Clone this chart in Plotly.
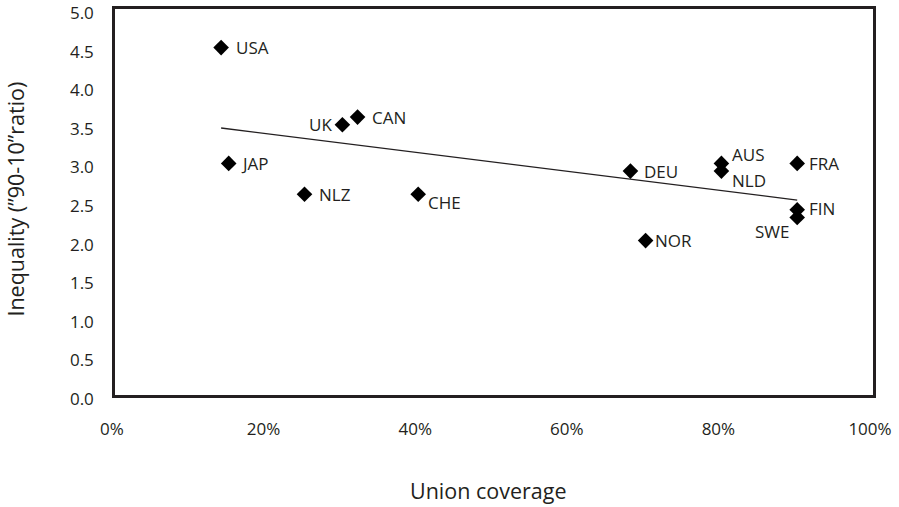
import numpy as np
import plotly.graph_objects as go

countries = ["USA", "JAP", "UK", "CAN", "NLZ", "CHE", "DEU", "AUS", "NLD", "FRA", "FIN", "SWE", "NOR"]
coverage = [0.14, 0.15, 0.30, 0.32, 0.25, 0.40, 0.68, 0.80, 0.80, 0.90, 0.90, 0.90, 0.70]
inequality = [4.5, 3.0, 3.5, 3.6, 2.6, 2.6, 2.9, 3.0, 2.9, 3.0, 2.4, 2.3, 2.0]

x_ticks = [0, 0.2, 0.4, 0.6, 0.8, 1.0]
x_ticktext = ["0%", "20%", "40%", "60%", "80%", "100%"]
y_ticks = [0, 0.5, 1.0, 1.5, 2.0, 2.5, 3.0, 3.5, 4.0, 4.5, 5.0]

# label placement (pixel offsets, style only)
label_style = {
    "USA": ("left", 13, 0), "JAP": ("left", 10, 0), "UK": ("right", -8, 0),
    "CAN": ("left", 12, 0), "NLZ": ("left", 12, 0), "CHE": ("left", 8, -8),
    "DEU": ("left", 12, 0), "AUS": ("left", 9, 9), "NLD": ("left", 9, -9),
    "FRA": ("left", 10, 0), "FIN": ("left", 10, 1), "SWE": ("right", -6, -14),
    "NOR": ("left", 7, 0),
}

TXT = "#231f20"
FONT = "Open Sans"

fig = go.Figure()

slope, intercept = np.polyfit(coverage, inequality, 1)
xl = np.array([min(coverage), max(coverage)])
fig.add_trace(go.Scatter(x=xl, y=slope * xl + intercept, mode="lines",
                         line=dict(color="#231f20", width=1.3), hoverinfo="skip",
                         showlegend=False))

fig.add_trace(go.Scatter(x=coverage, y=inequality, mode="markers",
                         marker=dict(symbol="diamond", size=12, color="#000000"),
                         showlegend=False))

for c, xv, yv in zip(countries, coverage, inequality):
    anchor, dx, dy = label_style[c]
    fig.add_annotation(x=xv, y=yv, text=c, showarrow=False, xanchor=anchor,
                       yanchor="middle", xshift=dx, yshift=dy,
                       font=dict(family=FONT, size=17, color=TXT))

fig.add_annotation(xref="paper", yref="paper", x=-0.131, y=0.508,
                   text="Inequality (\u201d90-10\u201dratio)", textangle=-90,
                   showarrow=False, xanchor="center", yanchor="middle",
                   font=dict(family=FONT, size=21.5, color=TXT))
fig.add_annotation(xref="paper", yref="paper", x=0.493, y=-0.247,
                   text="Union coverage", showarrow=False,
                   xanchor="center", yanchor="middle",
                   font=dict(family=FONT, size=21.5, color=TXT))

fig.update_xaxes(range=[0, 1], tickvals=x_ticks, ticktext=x_ticktext,
                 showgrid=False, zeroline=False, showline=True, mirror=True,
                 linecolor="#231f20", linewidth=2.5, ticks="", automargin=False,
                 ticklabelshift=-3, ticklabelstandoff=17, ticklabeloverflow="allow",
                 tickfont=dict(family=FONT, size=17, color=TXT))
fig.update_yaxes(range=[0, 5], tickvals=y_ticks, tickformat=".1f",
                 showgrid=False, zeroline=False, showline=True, mirror=True,
                 linecolor="#231f20", linewidth=2.5, ticks="", automargin=False,
                 ticklabelshift=4, ticklabelstandoff=15, ticklabeloverflow="allow",
                 tickfont=dict(family=FONT, size=17, color=TXT))

fig.update_layout(width=899, height=507,
                  margin=dict(l=115, r=26, t=9, b=111.5),
                  plot_bgcolor="white", paper_bgcolor="white")

fig.write_html("out.html", config={"displayModeBar": False},
               post_script="document.body.style.margin='0';document.body.style.overflow='hidden';")
